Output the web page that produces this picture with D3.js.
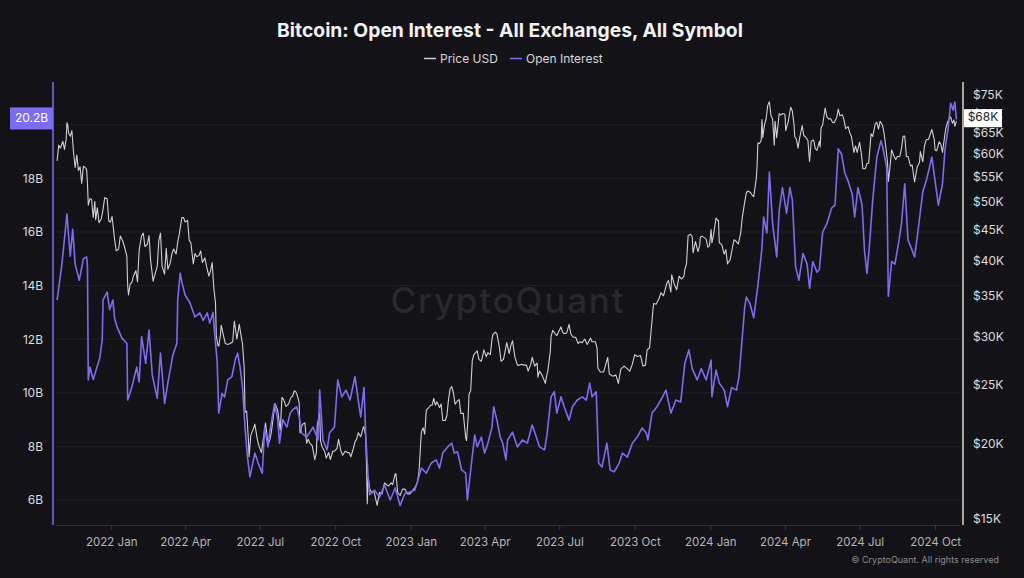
<!DOCTYPE html>
<html><head><meta charset="utf-8">
<script src="https://cdn.jsdelivr.net/npm/d3@7"></script>
<style>html,body{margin:0;padding:0;background:#131317;}svg{display:block;}</style>
</head><body><svg id="c" width="1024" height="578"></svg>
<script>
const title = "Bitcoin: Open Interest - All Exchanges, All Symbol";
const seriesNames = ["Price USD", "Open Interest"];
const oiTicks = [6, 8, 10, 12, 14, 16, 18, 20];
const priceTicks = [15000, 20000, 25000, 30000, 35000, 40000, 45000, 50000, 55000, 60000, 65000, 70000, 75000];
const xTicks = ["2022-01-01","2022-04-01","2022-07-01","2022-10-01","2023-01-01","2023-04-01","2023-07-01","2023-10-01","2024-01-01","2024-04-01","2024-07-01","2024-10-01"];

// BTC price, thousands USD
const priceSeries = [
["2021-10-27",58.4],["2021-10-29",62.0],["2021-10-31",61.3],["2021-11-03",62.9],["2021-11-05",61.0],["2021-11-07",63.3],["2021-11-08",67.5],["2021-11-09",66.9],["2021-11-10",64.9],["2021-11-12",64.1],["2021-11-14",65.5],["2021-11-16",60.4],["2021-11-18",56.9],["2021-11-20",59.7],["2021-11-22",56.3],["2021-11-24",57.1],["2021-11-26",53.6],["2021-11-28",57.2],["2021-11-30",57.0],["2021-12-02",56.5],["2021-12-03",53.6],["2021-12-04",49.4],["2021-12-06",50.6],["2021-12-08",50.5],["2021-12-10",47.1],["2021-12-12",50.1],["2021-12-13",46.7],["2021-12-15",48.9],["2021-12-17",46.2],["2021-12-20",46.9],["2021-12-22",48.6],["2021-12-24",50.8],["2021-12-27",50.6],["2021-12-29",46.5],["2021-12-31",46.3],
["2022-01-02",47.3],["2022-01-05",43.4],["2022-01-07",41.5],["2022-01-10",41.8],["2022-01-12",43.9],["2022-01-15",43.1],["2022-01-17",42.2],["2022-01-20",40.7],["2022-01-21",36.4],["2022-01-22",35.1],["2022-01-24",36.6],["2022-01-26",36.8],["2022-01-28",37.7],["2022-01-31",38.5],["2022-02-02",36.9],["2022-02-04",41.6],["2022-02-07",44.0],["2022-02-09",44.4],["2022-02-11",42.2],["2022-02-14",42.6],["2022-02-16",44.0],["2022-02-18",40.0],["2022-02-21",37.0],["2022-02-24",38.3],["2022-02-26",39.1],["2022-02-28",43.2],["2022-03-02",44.4],["2022-03-04",39.1],["2022-03-07",38.0],["2022-03-09",41.9],["2022-03-11",38.7],["2022-03-14",39.7],["2022-03-16",41.1],["2022-03-18",41.8],["2022-03-21",41.0],["2022-03-23",42.9],["2022-03-25",44.3],["2022-03-28",47.1],["2022-03-30",47.1],["2022-04-01",46.3],["2022-04-04",46.6],["2022-04-06",43.2],["2022-04-08",42.8],["2022-04-11",39.5],["2022-04-13",41.1],["2022-04-15",40.6],["2022-04-18",40.8],["2022-04-20",41.5],["2022-04-22",39.7],["2022-04-25",40.4],["2022-04-27",39.2],["2022-04-30",37.7],["2022-05-02",38.5],["2022-05-04",39.7],["2022-05-06",36.0],["2022-05-08",34.1],["2022-05-09",30.1],["2022-05-11",29.0],["2022-05-12",28.9],["2022-05-14",30.1],["2022-05-15",31.3],["2022-05-17",30.4],["2022-05-20",29.2],["2022-05-23",29.1],["2022-05-26",29.2],["2022-05-29",29.4],["2022-05-31",31.8],["2022-06-03",29.7],["2022-06-06",31.4],["2022-06-08",30.2],["2022-06-10",29.1],["2022-06-12",26.6],["2022-06-13",22.5],["2022-06-15",22.6],["2022-06-17",20.4],["2022-06-18",19.0],["2022-06-20",20.6],["2022-06-23",21.1],["2022-06-25",21.5],["2022-06-28",20.3],["2022-06-30",19.8],["2022-07-03",19.3],["2022-07-05",20.2],["2022-07-08",21.6],["2022-07-11",19.9],["2022-07-13",20.2],["2022-07-15",20.8],["2022-07-18",22.4],["2022-07-20",23.2],["2022-07-23",22.6],["2022-07-26",21.0],["2022-07-28",23.8],["2022-07-30",23.6],["2022-08-02",23.0],["2022-08-05",23.2],["2022-08-08",23.8],["2022-08-10",23.9],["2022-08-12",24.4],["2022-08-14",24.3],["2022-08-16",23.9],["2022-08-18",23.3],["2022-08-19",20.8],["2022-08-22",21.5],["2022-08-25",21.6],["2022-08-27",20.0],["2022-08-29",20.3],["2022-08-31",20.0],["2022-09-03",19.8],["2022-09-06",18.8],["2022-09-08",19.3],["2022-09-09",21.4],["2022-09-12",22.4],["2022-09-13",20.2],["2022-09-15",19.7],["2022-09-18",19.4],["2022-09-20",18.9],["2022-09-23",19.3],["2022-09-25",18.8],["2022-09-28",19.4],["2022-09-30",19.4],["2022-10-03",19.6],["2022-10-05",20.3],["2022-10-08",19.4],["2022-10-10",19.1],["2022-10-13",19.4],["2022-10-16",19.3],["2022-10-18",19.3],["2022-10-20",19.0],["2022-10-23",19.6],["2022-10-25",20.1],["2022-10-27",20.3],["2022-10-29",20.8],["2022-11-01",20.5],["2022-11-04",21.2],["2022-11-05",21.3],["2022-11-07",20.6],["2022-11-08",18.5],["2022-11-09",15.9],["2022-11-10",17.6],["2022-11-12",16.8],["2022-11-14",16.6],["2022-11-17",16.7],["2022-11-21",15.8],["2022-11-24",16.6],["2022-11-27",16.5],["2022-11-30",17.2],["2022-12-02",17.1],["2022-12-05",17.0],["2022-12-08",17.2],["2022-12-10",17.1],["2022-12-13",17.8],["2022-12-14",17.8],["2022-12-16",16.6],["2022-12-19",16.4],["2022-12-22",16.8],["2022-12-25",16.8],["2022-12-28",16.5],["2022-12-31",16.5],
["2023-01-03",16.7],["2023-01-06",16.9],["2023-01-09",17.2],["2023-01-11",17.9],["2023-01-13",19.9],["2023-01-14",20.9],["2023-01-16",21.2],["2023-01-18",20.7],["2023-01-20",22.7],["2023-01-23",22.9],["2023-01-25",23.1],["2023-01-27",23.1],["2023-01-29",23.7],["2023-01-31",23.1],["2023-02-02",23.4],["2023-02-05",22.9],["2023-02-07",23.2],["2023-02-09",21.8],["2023-02-12",21.8],["2023-02-14",22.2],["2023-02-16",23.6],["2023-02-18",24.6],["2023-02-20",24.8],["2023-02-22",24.2],["2023-02-24",23.2],["2023-02-27",23.5],["2023-03-01",23.6],["2023-03-03",22.4],["2023-03-06",22.4],["2023-03-09",20.4],["2023-03-10",20.2],["2023-03-12",22.2],["2023-03-13",24.1],["2023-03-15",24.4],["2023-03-17",27.4],["2023-03-19",28.0],["2023-03-21",28.2],["2023-03-23",28.4],["2023-03-25",27.5],["2023-03-28",27.3],["2023-03-30",28.0],["2023-03-31",28.5],["2023-04-03",27.8],["2023-04-05",28.2],["2023-04-08",28.0],["2023-04-10",29.7],["2023-04-11",30.2],["2023-04-14",30.5],["2023-04-16",30.3],["2023-04-19",28.8],["2023-04-21",27.3],["2023-04-24",27.5],["2023-04-26",28.4],["2023-04-28",29.3],["2023-05-01",28.1],["2023-05-03",29.0],["2023-05-05",29.5],["2023-05-08",27.7],["2023-05-11",26.9],["2023-05-14",26.9],["2023-05-16",27.0],["2023-05-19",26.9],["2023-05-22",26.9],["2023-05-24",26.3],["2023-05-27",26.9],["2023-05-29",27.7],["2023-06-01",26.8],["2023-06-04",27.1],["2023-06-05",25.7],["2023-06-07",26.3],["2023-06-10",25.9],["2023-06-14",25.1],["2023-06-15",25.6],["2023-06-17",26.3],["2023-06-20",28.3],["2023-06-21",30.0],["2023-06-23",30.7],["2023-06-26",30.3],["2023-06-28",30.1],["2023-06-30",30.5],["2023-07-03",31.1],["2023-07-05",30.5],["2023-07-07",30.3],["2023-07-10",30.4],["2023-07-13",31.4],["2023-07-15",30.3],["2023-07-18",29.9],["2023-07-21",29.9],["2023-07-24",29.2],["2023-07-26",29.4],["2023-07-29",29.3],["2023-08-01",29.7],["2023-08-04",29.1],["2023-08-08",29.8],["2023-08-10",29.4],["2023-08-14",29.4],["2023-08-16",28.7],["2023-08-17",26.6],["2023-08-20",26.2],["2023-08-24",26.2],["2023-08-29",27.7],["2023-08-31",26.0],["2023-09-04",25.8],["2023-09-08",25.9],["2023-09-11",25.1],["2023-09-14",26.5],["2023-09-18",26.8],["2023-09-21",26.6],["2023-09-25",26.3],["2023-09-28",27.0],["2023-10-01",28.0],["2023-10-04",27.8],["2023-10-08",27.9],["2023-10-11",26.8],["2023-10-14",26.9],["2023-10-16",28.5],["2023-10-19",28.7],["2023-10-20",29.7],["2023-10-23",33.0],["2023-10-24",34.0],["2023-10-27",33.9],["2023-10-30",34.5],["2023-11-02",35.4],["2023-11-05",35.0],["2023-11-09",36.7],["2023-11-11",37.1],["2023-11-14",35.5],["2023-11-15",37.9],["2023-11-18",36.6],["2023-11-21",35.8],["2023-11-24",37.7],["2023-11-27",37.3],["2023-11-30",37.7],["2023-12-01",38.7],["2023-12-03",39.5],["2023-12-05",44.0],["2023-12-08",44.2],["2023-12-10",43.8],["2023-12-11",41.2],["2023-12-14",43.0],["2023-12-17",41.4],["2023-12-19",42.3],["2023-12-20",43.7],["2023-12-22",43.9],["2023-12-25",43.6],["2023-12-27",43.4],["2023-12-29",42.1],["2023-12-31",42.3],
["2024-01-02",45.0],["2024-01-03",42.8],["2024-01-05",44.1],["2024-01-08",47.0],["2024-01-10",46.6],["2024-01-11",46.6],["2024-01-12",42.8],["2024-01-15",42.5],["2024-01-18",41.0],["2024-01-20",41.7],["2024-01-22",39.5],["2024-01-23",39.8],["2024-01-25",40.0],["2024-01-28",42.0],["2024-01-30",43.3],["2024-02-01",43.1],["2024-02-04",42.6],["2024-02-07",44.3],["2024-02-09",47.1],["2024-02-12",50.0],["2024-02-14",51.8],["2024-02-16",52.1],["2024-02-19",51.8],["2024-02-21",51.3],["2024-02-23",51.0],["2024-02-26",54.5],["2024-02-27",57.1],["2024-02-28",62.5],["2024-03-01",62.4],["2024-03-03",63.1],["2024-03-04",68.3],["2024-03-05",63.8],["2024-03-07",66.9],["2024-03-09",68.4],["2024-03-11",72.1],["2024-03-13",73.1],["2024-03-15",69.4],["2024-03-17",68.4],["2024-03-19",62.0],["2024-03-20",67.9],["2024-03-22",63.8],["2024-03-25",69.9],["2024-03-27",69.5],["2024-03-29",69.9],["2024-04-01",69.7],["2024-04-02",65.5],["2024-04-05",67.8],["2024-04-08",71.6],["2024-04-10",70.6],["2024-04-12",67.1],["2024-04-13",64.0],["2024-04-15",63.4],["2024-04-17",61.3],["2024-04-19",63.8],["2024-04-22",66.8],["2024-04-24",64.3],["2024-04-26",64.0],["2024-04-29",63.1],["2024-04-30",60.6],["2024-05-01",58.3],["2024-05-03",62.9],["2024-05-06",63.2],["2024-05-08",61.2],["2024-05-10",60.8],["2024-05-13",62.9],["2024-05-14",61.6],["2024-05-15",66.2],["2024-05-17",67.0],["2024-05-20",71.4],["2024-05-22",69.1],["2024-05-24",68.5],["2024-05-27",68.5],["2024-05-29",67.6],["2024-05-31",67.5],["2024-06-03",68.8],["2024-06-05",71.1],["2024-06-07",69.3],["2024-06-10",69.6],["2024-06-12",68.2],["2024-06-14",66.0],["2024-06-17",66.5],["2024-06-19",65.0],["2024-06-21",64.1],["2024-06-24",60.3],["2024-06-26",61.8],["2024-06-28",60.3],["2024-07-01",62.7],["2024-07-03",60.2],["2024-07-05",56.7],["2024-07-08",56.7],["2024-07-10",57.8],["2024-07-12",57.9],["2024-07-15",64.7],["2024-07-17",64.1],["2024-07-20",67.2],["2024-07-22",67.6],["2024-07-24",65.9],["2024-07-26",67.9],["2024-07-29",66.8],["2024-07-31",64.6],["2024-08-02",61.4],["2024-08-04",58.1],["2024-08-05",54.0],["2024-08-07",57.0],["2024-08-09",60.9],["2024-08-12",59.4],["2024-08-14",58.7],["2024-08-16",59.4],["2024-08-19",59.4],["2024-08-21",61.2],["2024-08-23",64.1],["2024-08-25",64.2],["2024-08-27",59.4],["2024-08-29",59.4],["2024-09-01",57.3],["2024-09-03",57.5],["2024-09-06",53.9],["2024-09-09",57.0],["2024-09-12",58.1],["2024-09-13",60.5],["2024-09-16",58.2],["2024-09-18",61.8],["2024-09-20",63.2],["2024-09-23",63.4],["2024-09-26",65.2],["2024-09-27",65.8],["2024-09-30",63.3],["2024-10-01",60.8],["2024-10-03",60.7],["2024-10-06",62.8],["2024-10-08",62.2],["2024-10-10",60.3],["2024-10-12",63.2],["2024-10-14",66.0],["2024-10-16",67.6],["2024-10-18",68.4],["2024-10-20",69.0],["2024-10-22",67.4],["2024-10-24",68.2],["2024-10-25",66.6],["2024-10-27",67.9]
];

// Open interest, billions USD
const oiSeries = [
["2021-10-27",13.46],["2021-11-02",14.84],["2021-11-08",16.67],["2021-11-12",15.1],["2021-11-15",16.1],["2021-11-18",14.8],["2021-11-23",14.2],["2021-11-28",15.0],["2021-12-02",15.07],["2021-12-03",14.7],["2021-12-04",10.48],["2021-12-06",10.96],["2021-12-10",10.5],["2021-12-18",11.3],["2021-12-21",11.97],["2021-12-22",13.46],["2021-12-27",13.76],["2021-12-30",13.1],
["2022-01-03",13.46],["2022-01-05",12.8],["2022-01-08",12.46],["2022-01-14",12.04],["2022-01-20",11.85],["2022-01-21",9.73],["2022-01-26",10.2],["2022-02-01",10.96],["2022-02-04",10.4],["2022-02-07",12.1],["2022-02-12",11.1],["2022-02-16",12.34],["2022-02-20",10.66],["2022-02-26",9.8],["2022-03-02",11.48],["2022-03-07",9.6],["2022-03-11",10.37],["2022-03-17",11.4],["2022-03-22",11.85],["2022-03-23",13.46],["2022-03-26",14.47],["2022-03-28",14.13],["2022-04-01",13.65],["2022-04-07",13.35],["2022-04-13",12.83],["2022-04-19",12.98],["2022-04-23",12.7],["2022-04-28",12.98],["2022-05-01",12.6],["2022-05-05",13.0],["2022-05-07",12.2],["2022-05-10",11.2],["2022-05-12",9.24],["2022-05-16",9.98],["2022-05-19",9.84],["2022-05-23",10.48],["2022-05-28",10.6],["2022-06-01",11.22],["2022-06-04",11.48],["2022-06-07",10.96],["2022-06-10",10.2],["2022-06-13",8.72],["2022-06-16",7.6],["2022-06-19",6.86],["2022-06-25",7.75],["2022-06-29",7.38],["2022-07-04",7.0],["2022-07-07",8.72],["2022-07-11",7.98],["2022-07-13",8.5],["2022-07-19",9.6],["2022-07-23",8.98],["2022-07-25",8.12],["2022-07-29",9.0],["2022-08-03",8.72],["2022-08-07",9.24],["2022-08-10",9.36],["2022-08-15",9.48],["2022-08-18",9.1],["2022-08-21",8.5],["2022-08-27",8.35],["2022-08-31",8.53],["2022-09-04",8.72],["2022-09-10",8.24],["2022-09-12",10.1],["2022-09-16",8.24],["2022-09-21",7.87],["2022-09-24",8.5],["2022-09-30",8.72],["2022-10-04",10.48],["2022-10-09",9.85],["2022-10-14",10.1],["2022-10-19",9.73],["2022-10-25",10.6],["2022-10-29",9.73],["2022-11-01",9.1],["2022-11-05",10.2],["2022-11-07",8.5],["2022-11-10",6.86],["2022-11-12",6.2],["2022-11-16",6.3],["2022-11-18",6.37],["2022-11-24",6.1],["2022-11-30",6.56],["2022-12-07",6.0],["2022-12-13",6.45],["2022-12-19",5.8],["2022-12-25",6.25],["2022-12-31",6.3],
["2023-01-06",6.37],["2023-01-09",6.67],["2023-01-14",7.19],["2023-01-20",7.0],["2023-01-26",7.38],["2023-02-01",7.5],["2023-02-05",7.19],["2023-02-09",7.75],["2023-02-15",7.98],["2023-02-20",8.12],["2023-02-23",7.75],["2023-02-27",7.8],["2023-03-04",7.12],["2023-03-09",7.0],["2023-03-11",6.0],["2023-03-16",7.38],["2023-03-20",8.42],["2023-03-23",7.98],["2023-03-28",8.35],["2023-04-01",7.75],["2023-04-05",8.12],["2023-04-10",8.72],["2023-04-12",9.48],["2023-04-16",8.98],["2023-04-20",8.35],["2023-04-23",8.12],["2023-04-27",7.5],["2023-04-29",8.24],["2023-05-05",8.53],["2023-05-11",7.98],["2023-05-17",8.24],["2023-05-23",8.12],["2023-05-29",8.8],["2023-06-03",8.35],["2023-06-07",7.98],["2023-06-13",7.87],["2023-06-16",8.42],["2023-06-21",9.85],["2023-06-25",10.04],["2023-06-28",9.24],["2023-07-03",9.85],["2023-07-07",9.48],["2023-07-13",8.98],["2023-07-17",9.48],["2023-07-23",9.73],["2023-07-29",9.85],["2023-08-03",9.73],["2023-08-07",10.36],["2023-08-10",9.85],["2023-08-15",10.04],["2023-08-18",7.38],["2023-08-22",7.23],["2023-08-28",8.12],["2023-09-01",7.12],["2023-09-06",7.05],["2023-09-12",7.38],["2023-09-16",7.75],["2023-09-22",7.6],["2023-09-28",8.12],["2023-10-04",8.35],["2023-10-10",8.69],["2023-10-15",8.5],["2023-10-17",8.24],["2023-10-22",9.24],["2023-10-28",9.48],["2023-11-03",9.8],["2023-11-08",10.1],["2023-11-14",9.24],["2023-11-20",9.73],["2023-11-26",9.66],["2023-12-01",11.1],["2023-12-06",11.6],["2023-12-10",10.9],["2023-12-16",10.48],["2023-12-21",10.9],["2023-12-27",10.48],
["2024-01-02",11.22],["2024-01-03",9.85],["2024-01-08",10.85],["2024-01-12",10.36],["2024-01-18",10.1],["2024-01-22",9.48],["2024-01-27",10.2],["2024-02-02",10.1],["2024-02-05",10.6],["2024-02-08",11.7],["2024-02-12",13.2],["2024-02-14",13.57],["2024-02-18",13.35],["2024-02-23",12.8],["2024-02-28",14.0],["2024-03-04",15.4],["2024-03-06",16.56],["2024-03-10",15.96],["2024-03-13",18.24],["2024-03-17",16.3],["2024-03-22",15.07],["2024-03-25",16.8],["2024-03-29",17.66],["2024-04-03",16.7],["2024-04-07",17.66],["2024-04-10",17.2],["2024-04-14",14.7],["2024-04-18",14.2],["2024-04-23",15.2],["2024-04-28",14.8],["2024-05-01",13.9],["2024-05-05",14.9],["2024-05-10",14.5],["2024-05-13",14.6],["2024-05-17",16.0],["2024-05-22",16.3],["2024-05-28",16.9],["2024-06-01",17.0],["2024-06-05",19.1],["2024-06-09",18.9],["2024-06-13",18.2],["2024-06-17",17.9],["2024-06-22",17.4],["2024-06-25",16.56],["2024-06-29",17.66],["2024-07-04",17.0],["2024-07-07",15.3],["2024-07-10",14.45],["2024-07-13",15.5],["2024-07-17",17.2],["2024-07-22",18.8],["2024-07-27",19.4],["2024-07-29",19.2],["2024-08-03",18.4],["2024-08-05",13.6],["2024-08-09",14.9],["2024-08-13",14.8],["2024-08-17",15.5],["2024-08-21",16.3],["2024-08-25",17.8],["2024-08-29",15.7],["2024-09-02",15.4],["2024-09-06",15.07],["2024-09-10",16.0],["2024-09-16",17.5],["2024-09-21",18.0],["2024-09-27",18.8],["2024-10-01",17.9],["2024-10-05",17.0],["2024-10-10",17.8],["2024-10-13",19.06],["2024-10-17",19.9],["2024-10-20",20.8],["2024-10-23",20.55],["2024-10-25",20.85],["2024-10-27",20.2]
];

const parse = d3.timeParse("%Y-%m-%d");
const priceData = priceSeries.map(d=>({date:parse(d[0]), v:d[1]*1000}));
const oiData = oiSeries.map(d=>({date:parse(d[0]), v:d[1]}));

const svg = d3.select("#c");
const W = 1024, H = 578;
const plot = {left:53, right:963, top:82, bottom:525};
const font = "Inter, 'Noto Sans', sans-serif";
const purple = "#7b6cf2";

svg.append("rect").attr("width",W).attr("height",H).attr("fill","#131317");

const x = d3.scaleTime().domain([parse("2021-10-22"), parse("2024-11-04")]).range([plot.left, plot.right]);
const yL = d3.scaleLinear().domain([6,20]).range([500,124.8]);
const yR = d3.scaleLog().domain([15000,75000]).range([519,95]);

// gridlines
svg.append("g").selectAll("line").data(oiTicks).join("line")
  .attr("x1",56).attr("x2",960).attr("y1",d=>yL(d)).attr("y2",d=>yL(d))
  .attr("stroke","#202025").attr("stroke-width",1);

// watermark
svg.append("text").attr("x",508).attr("y",313).attr("text-anchor","middle")
  .attr("font-family",font).attr("font-size",35).attr("font-weight",500).attr("letter-spacing",1.8)
  .attr("fill","#28282e").text("CryptoQuant");

// title
svg.append("text").attr("x",510).attr("y",37).attr("text-anchor","middle")
  .attr("font-family",font).attr("font-size",19.3).attr("font-weight",700).attr("fill","#f2f2f2").text(title);

// legend
const leg = [{name:seriesNames[0], color:"#cfcfcf", x:424},{name:seriesNames[1], color:purple, x:510}];
leg.forEach(l=>{
  svg.append("line").attr("x1",l.x).attr("x2",l.x+12).attr("y1",58.5).attr("y2",58.5).attr("stroke",l.color).attr("stroke-width",1.5);
  svg.append("text").attr("x",l.x+16).attr("y",62.5).attr("font-family",font).attr("font-size",12).attr("fill","#d8d8d8").text(l.name);
});

// x axis
const xAxis = d3.axisBottom(x).tickValues(xTicks.map(parse)).tickSize(5).tickFormat(d3.timeFormat("%Y %b"));
const gx = svg.append("g").attr("transform",`translate(0,${plot.bottom})`).call(xAxis);
gx.select(".domain").attr("d",`M56,0.5H960`).attr("stroke","#303035");
gx.selectAll(".tick line").attr("stroke","#3a3a40");
gx.selectAll(".tick text").attr("font-family",font).attr("font-size",11.5).attr("fill","#b5b5b5").attr("dy","1.15em");

// left axis
const gl = svg.append("g").attr("transform",`translate(${plot.left},0)`)
  .call(d3.axisLeft(yL).tickValues(oiTicks).tickSize(0).tickPadding(10).tickFormat(d=>d+"B"));
gl.select(".domain").remove();
gl.append("line").attr("x1",0).attr("x2",0).attr("y1",plot.top).attr("y2",plot.bottom).attr("stroke",purple).attr("stroke-width",1.5);
gl.selectAll(".tick text").attr("font-family",font).attr("font-size",12).attr("fill","#dcdcdc");

// right axis
const gr = svg.append("g").attr("transform",`translate(${plot.right},0)`)
  .call(d3.axisRight(yR).tickValues(priceTicks).tickSize(0).tickPadding(10).tickFormat(d=>"$"+(d/1000)+"K"));
gr.select(".domain").remove();
gr.append("line").attr("x1",0).attr("x2",0).attr("y1",plot.top).attr("y2",plot.bottom).attr("stroke","#d8d8d8").attr("stroke-width",1.5);
gr.selectAll(".tick text").attr("font-family",font).attr("font-size",12).attr("fill","#dcdcdc");

// lines
const linePrice = d3.line().x(d=>x(d.date)).y(d=>yR(d.v));
const lineOI = d3.line().x(d=>x(d.date)).y(d=>yL(d.v));
svg.append("path").datum(priceData).attr("d",linePrice).attr("fill","none").attr("stroke","#d0d0d0").attr("stroke-width",1.1).attr("stroke-linejoin","round");
svg.append("path").datum(oiData).attr("d",lineOI).attr("fill","none").attr("stroke",purple).attr("stroke-width",1.6).attr("stroke-linejoin","round");

// last value labels
const lastOI = oiData[oiData.length-1].v;
const lastP = priceData[priceData.length-1].v;
const lg = svg.append("g");
lg.append("rect").attr("x",10).attr("y",yL(lastOI)-12).attr("width",43).attr("height",22).attr("fill",purple);
lg.append("text").attr("x",31.5).attr("y",yL(lastOI)-1).attr("text-anchor","middle").attr("dominant-baseline","middle")
  .attr("font-family",font).attr("font-size",12).attr("fill","#ffffff").text(lastOI.toFixed(1)+"B");
const rg = svg.append("g");
rg.append("rect").attr("x",964).attr("y",yR(lastP)-12).attr("width",38).attr("height",18).attr("fill","#ffffff");
rg.append("text").attr("x",983).attr("y",yR(lastP)-3).attr("text-anchor","middle").attr("dominant-baseline","middle")
  .attr("font-family",font).attr("font-size",12).attr("fill","#222").text("$"+Math.round(lastP/1000)+"K");

// copyright
svg.append("text").attr("x",999).attr("y",563).attr("text-anchor","end").attr("font-family",font).attr("font-size",9)
  .attr("fill","#8a8a8a").text("© CryptoQuant. All rights reserved");
</script></body></html>
